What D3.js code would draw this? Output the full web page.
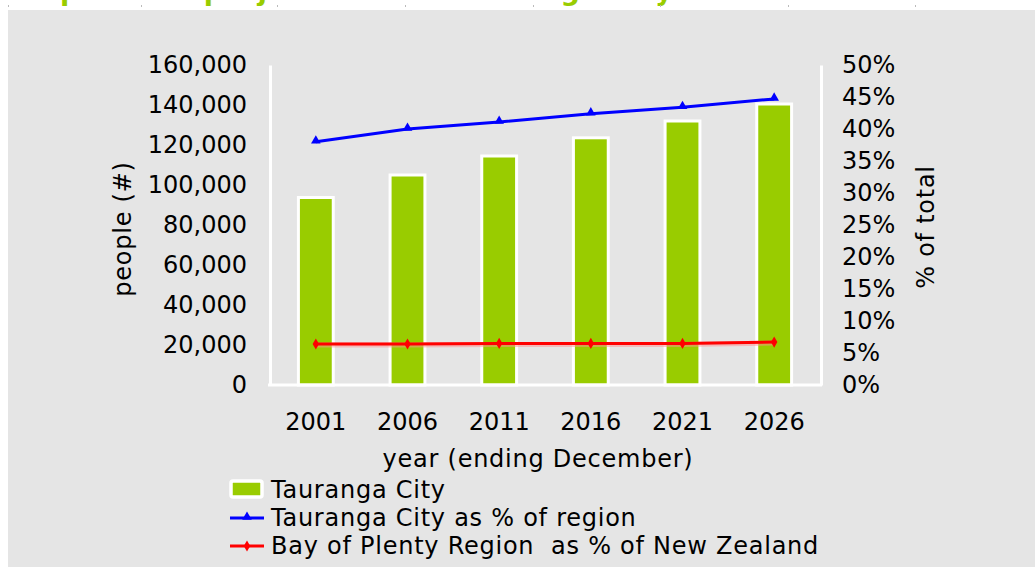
<!DOCTYPE html>
<html>
<head>
<meta charset="utf-8">
<script src="https://cdn.jsdelivr.net/npm/d3@7"></script>
<style>
	html, body { margin: 0; padding: 0; background: #fff; }
	svg { display: block; font-family: "DejaVu Sans", Verdana, sans-serif; }
</style>
</head>
<body>
<div id="chart"></div>
<script>
const years = ["2001", "2006", "2011", "2016", "2021", "2026"];
const taurangaPop = [93750, 105000, 114500, 123600, 132000, 140500];
const taurangaShare = [38.0, 40.0, 41.1, 42.4, 43.4, 44.7];
const bopShare = [6.4, 6.4, 6.5, 6.5, 6.5, 6.7];
const leftTicks = [0, 20000, 40000, 60000, 80000, 100000, 120000, 140000, 160000];
const rightTicks = [0, 5, 10, 15, 20, 25, 30, 35, 40, 45, 50];
const legendLabels = ["Tauranga City", "Tauranga City as % of region", "Bay of Plenty Region  as % of New Zealand"];

const width = 1035, height = 567;
const green = "#99cc00", grey = "#e5e5e5";
const spacing = "0.75px";

const svg = d3.select("#chart").append("svg")
	.attr("width", width)
	.attr("height", height);

// title sits mostly above the frame, only the descenders show
const title = svg.append("text")
	.attr("x", 22)
	.attr("y", -0.5)
	.attr("fill", green)
	.attr("font-weight", "bold")
	.attr("font-size", 27)
	.text("Population projections for Tauranga City");
{
	const n = title.node();
	const p = n.getStartPositionOfChar(2).x, y = n.getStartPositionOfChar(39).x;
	const ls = (655 - 60 - (y - p)) / 37;
	title.attr("letter-spacing", ls + "px");
	const p2 = n.getStartPositionOfChar(2).x;
	title.attr("x", 22 + 60 - p2);
}

svg.append("g").selectAll("rect")
	.data([8, 141, 277, 405, 533, 660, 788, 915])
	.join("rect")
	.attr("x", d => d).attr("y", 5).attr("width", 1).attr("height", 2)
	.attr("fill", "#bbb");

svg.append("rect")
	.attr("x", 8).attr("y", 10)
	.attr("width", width - 8).attr("height", height - 10)
	.attr("fill", grey);

const x = d3.scaleBand(years, [270, 820]).paddingInner(0.62).paddingOuter(0.31);
const yL = d3.scaleLinear([0, 160000], [385, 65]);
const yR = d3.scaleLinear([0, 50], [385, 65]);
const cx = d => x(d) + x.bandwidth() / 2;

// bars
svg.append("g").selectAll("rect")
	.data(years)
	.join("rect")
	.attr("x", d => x(d))
	.attr("y", (d, i) => yL(taurangaPop[i]))
	.attr("width", x.bandwidth())
	.attr("height", (d, i) => yL(0) - yL(taurangaPop[i]))
	.attr("fill", green)
	.attr("stroke", "#fff")
	.attr("stroke-width", 3);

// axes
const axisL = svg.append("g")
	.attr("transform", "translate(270,0)")
	.call(d3.axisLeft(yL).tickValues(leftTicks).tickFormat(d3.format(",")).tickSize(0).tickPadding(23));
const axisR = svg.append("g")
	.attr("transform", "translate(821,0)")
	.call(d3.axisRight(yR).tickValues(rightTicks).tickFormat(d => d + "%").tickSize(0).tickPadding(21));
const axisB = svg.append("g")
	.attr("transform", "translate(0,385)")
	.call(d3.axisBottom(x).tickSize(0).tickPadding(28));

[axisL, axisR, axisB].forEach(a => {
	a.select(".domain").attr("stroke", "#fff").attr("stroke-width", 3);
	a.selectAll("text").attr("font-size", 24).attr("fill", "#000")
		.attr("font-family", "DejaVu Sans, Verdana, sans-serif");
});
axisB.select(".domain").attr("d", "M268,0H822");

// lines
const line = arr => d3.line().x((d, i) => cx(years[i])).y(d => yR(d))(arr);
const tri = d3.symbol(d3.symbolTriangle, 40);
const dia = d3.symbol(d3.symbolDiamond, 36);

svg.append("path")
	.attr("d", line(bopShare))
	.attr("fill", "none").attr("stroke", "#ff9090").attr("stroke-width", 5).attr("opacity", 0.5)
	.attr("transform", "translate(0,1)");
svg.append("path")
	.attr("d", line(bopShare))
	.attr("fill", "none").attr("stroke", "#ff0000").attr("stroke-width", 3);
svg.append("g").selectAll("path")
	.data(bopShare)
	.join("path")
	.attr("d", dia)
	.attr("transform", (d, i) => `translate(${cx(years[i])},${yR(d)})`)
	.attr("fill", "#ff0000");

svg.append("path")
	.attr("d", line(taurangaShare))
	.attr("fill", "none").attr("stroke", "#0000ff").attr("stroke-width", 3);
svg.append("g").selectAll("path")
	.data(taurangaShare)
	.join("path")
	.attr("d", tri)
	.attr("transform", (d, i) => `translate(${cx(years[i])},${yR(d) - 1})`)
	.attr("fill", "#0000ff");

// axis titles
svg.append("text")
	.attr("transform", "translate(131,229) rotate(-90)")
	.attr("text-anchor", "middle")
	.attr("font-size", 24)
	.attr("letter-spacing", spacing)
	.text("people (#)");
svg.append("text")
	.attr("transform", "translate(934,227) rotate(-90)")
	.attr("text-anchor", "middle")
	.attr("font-size", 24)
	.attr("letter-spacing", spacing)
	.text("% of total");
svg.append("text")
	.attr("x", 538).attr("y", 467)
	.attr("text-anchor", "middle")
	.attr("font-size", 24)
	.attr("letter-spacing", spacing)
	.text("year (ending December)");

// legend
const lg = svg.append("g").attr("font-size", 24).attr("letter-spacing", spacing);
lg.append("rect")
	.attr("x", 231).attr("y", 481).attr("width", 31).attr("height", 16)
	.attr("rx", 2)
	.attr("fill", green).attr("stroke", "#fff").attr("stroke-width", 3.5);
lg.append("line").attr("x1", 230).attr("x2", 264).attr("y1", 518).attr("y2", 518)
	.attr("stroke", "#0000ff").attr("stroke-width", 3);
lg.append("path").attr("d", tri).attr("transform", "translate(247,517)").attr("fill", "#0000ff");
lg.append("line").attr("x1", 230).attr("x2", 264).attr("y1", 546).attr("y2", 546)
	.attr("stroke", "#ff0000").attr("stroke-width", 3);
lg.append("path").attr("d", dia).attr("transform", "translate(247,546)").attr("fill", "#ff0000");
lg.selectAll("text")
	.data(legendLabels)
	.join("text")
	.attr("x", 271)
	.attr("y", (d, i) => 498 + i * 28)
	.attr("xml:space", "preserve")
	.style("white-space", "pre")
	.text(d => d);
</script>
</body>
</html>
